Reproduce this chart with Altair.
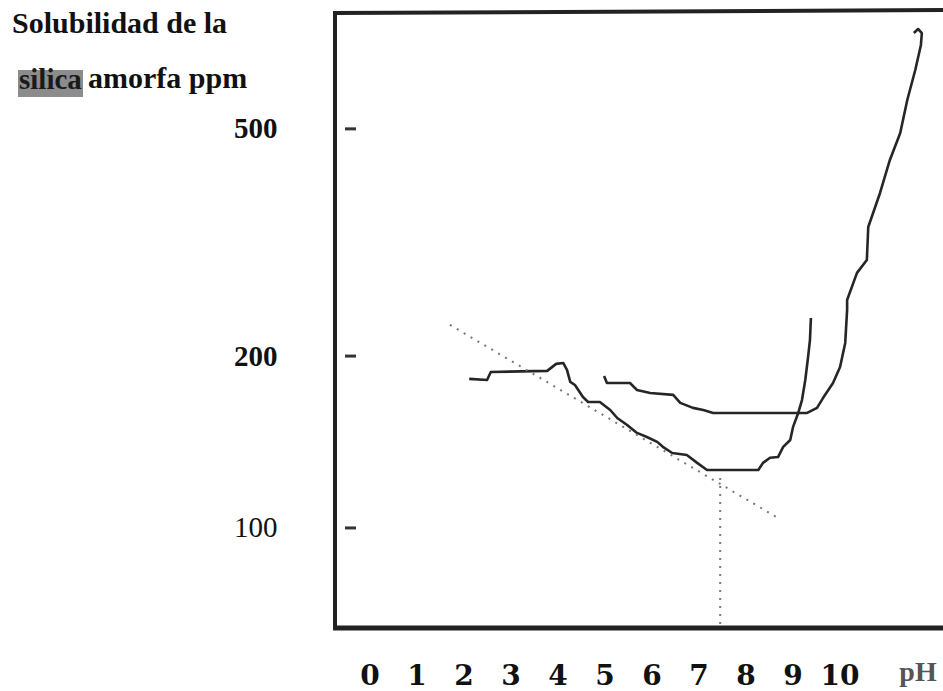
import altair as alt
import pandas as pd

# --- data (pH, ppm) ---
ph_a = [2.11, 2.49, 2.57, 3.77, 3.96, 4.11, 4.19, 4.26, 4.36, 4.53, 4.64, 4.89, 5.11, 5.26,
        5.47, 5.68, 5.89, 6.11, 6.23, 6.43, 6.74, 6.96, 7.17, 8.26, 8.36, 8.51, 8.68, 8.79,
        8.94, 9.00, 9.11, 9.19, 9.26, 9.32, 9.36, 9.38]
ppm_a = [182.4, 181.6, 187.6, 188.4, 193.8, 194.5, 189.1, 180.2, 178.0, 169.6, 166.2, 166.2,
         160.9, 155.8, 151.5, 146.7, 144.3, 141.5, 138.7, 135.3, 134.2, 130.0, 126.3, 126.3,
         130.0, 132.7, 133.1, 138.7, 142.6, 150.3, 159.0, 167.5, 181.6, 199.3, 213.5, 233.2]

ph_b = [4.98, 5.04, 5.53, 5.68, 5.96, 6.45, 6.60, 6.87, 7.09, 7.30, 9.30, 9.51, 9.64, 9.85,
        10.00, 10.11, 10.15, 10.15, 10.36, 10.57, 10.60, 10.85, 11.06, 11.28, 11.43, 11.60,
        11.72, 11.74, 11.66, 11.57]
ppm_b = [184.6, 179.4, 179.4, 174.4, 172.3, 171.0, 165.6, 162.3, 160.9, 159.0, 159.0, 162.3,
         169.0, 179.4, 191.4, 210.9, 240.9, 250.8, 279.7, 294.7, 336.6, 386.1, 441.0, 491.8,
         561.7, 634.0, 701.4, 735.8, 747.9, 735.8]

dot_ph = [1.70, 8.68]
dot_ppm = [226.8, 104.1]
vline_ph = [7.45]
vline_ppm = [122.3]

x_labels = [0, 1, 2, 3, 4, 5, 6, 7, 8, 9, 10]
y_values = [500, 200, 100]

W, H = 608, 616
xs = alt.Scale(domain=[-0.745, 12.19], nice=False, zero=False)
ys = alt.Scale(type="log", domain=[66.8, 801], nice=False)

yaxis = alt.Axis(values=y_values, ticks=False, domain=False, grid=False, labelPadding=58,
                 labelFont="Liberation Serif", labelFontSize=29, labelColor="#111111",
                 labelFontWeight={"condition": {"test": "datum.value == 100", "value": "normal"},
                                  "value": "bold"},
                 format="d", title=None)

X = lambda: alt.X("pH:Q", scale=xs, axis=None)
Y = lambda: alt.Y("ppm:Q", scale=ys, axis=yaxis)

curves = pd.DataFrame({
    "pH": ph_a + ph_b,
    "ppm": ppm_a + ppm_b,
    "serie": ["a"] * len(ph_a) + ["b"] * len(ph_b),
    "i": list(range(len(ph_a))) + list(range(len(ph_b))),
})
lines = alt.Chart(curves).mark_line(color="#262626", strokeWidth=2.6, strokeJoin="round").encode(
    x=X(), y=Y(), detail="serie:N", order="i:Q")

dots = alt.Chart(pd.DataFrame({"pH": dot_ph, "ppm": dot_ppm})).mark_line(
    color="#777777", strokeWidth=2, strokeDash=[2, 6]).encode(x=X(), y=Y())

vdots = alt.Chart(pd.DataFrame({"pH": vline_ph, "ppm": vline_ppm})).mark_rule(
    color="#777777", strokeWidth=2, strokeDash=[2, 6]).encode(x=X(), y=Y(), y2=alt.value(H))

ticks = alt.Chart(pd.DataFrame({"ppm": y_values})).mark_rule(color="#333333", strokeWidth=3).encode(
    y=Y(), x=alt.value(10), x2=alt.value(21))

one = pd.DataFrame({"a": [0]})
frame_left = alt.Chart(one).mark_rule(color="#222222", strokeWidth=4).encode(
    x=alt.value(0), y=alt.value(0), y2=alt.value(H + 2))
frame_top = alt.Chart(one).mark_rule(color="#222222", strokeWidth=4).encode(
    x=alt.value(-2), x2=alt.value(W), y=alt.value(1), y2=alt.value(-2))
frame_bottom = alt.Chart(one).mark_rule(color="#222222", strokeWidth=5).encode(
    x=alt.value(-2), x2=alt.value(W), y=alt.value(H))

xlab = alt.Chart(pd.DataFrame({"pH": x_labels, "t": [str(v) for v in x_labels]})).mark_text(
    font="DejaVu Serif", fontSize=28, fontWeight="bold", color="#111111",
    align="center", baseline="alphabetic").encode(x=X(), y=alt.value(673), text="t:N")

ph_text = alt.Chart(one).mark_text(
    text="pH", font="Liberation Serif", fontSize=28, fontWeight="bold", color="#555555",
    align="center", baseline="alphabetic").encode(x=alt.value(583), y=alt.value(669))

title1 = alt.Chart(one).mark_text(
    text="Solubilidad de la", font="Liberation Serif", fontSize=30, fontWeight="bold",
    color="#111111", align="left", baseline="alphabetic").encode(x=alt.value(-323), y=alt.value(21))

silica_box = alt.Chart(one).mark_rect(color="#8c8c8c").encode(
    x=alt.value(-317), x2=alt.value(-252), y=alt.value(58), y2=alt.value(85))
silica = alt.Chart(one).mark_text(
    text="silica", font="Liberation Serif", fontSize=29, fontWeight="bold",
    color="#1a1a1a", align="left", baseline="alphabetic").encode(x=alt.value(-316), y=alt.value(77))
amorfa = alt.Chart(one).mark_text(
    text="amorfa ppm", font="Liberation Serif", fontSize=30, fontWeight="bold",
    color="#111111", align="left", baseline="alphabetic").encode(x=alt.value(-247), y=alt.value(76))

chart = alt.layer(
    lines, dots, vdots, ticks, frame_left, frame_top, frame_bottom,
    xlab, ph_text, title1, silica_box, silica, amorfa
).properties(
    width=W, height=H,
    autosize=alt.AutoSizeParams(type="none"),
    padding={"left": 335, "top": 12, "right": 0, "bottom": 63},
    background="white",
).configure_view(stroke=None)

chart.save("out.html", embed_options={"renderer": "svg", "actions": False})
